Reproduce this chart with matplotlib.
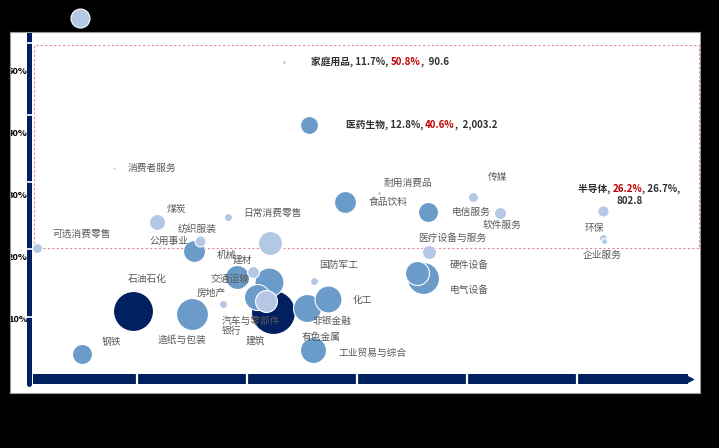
import matplotlib
matplotlib.use("Agg")
import matplotlib.pyplot as plt
import numpy as np
from matplotlib.patches import Rectangle
from matplotlib.offsetbox import TextArea, HPacker, VPacker, AnnotationBbox

plt.rcParams['font.family'] = ['Noto Sans CJK SC', 'DejaVu Sans']

# ---------------- data ----------------
names = ["", "家庭用品", "医药生物", "消费者服务", "食品饮料", "耐用消费品", "煤炭",
         "日常消费零售", "可选消费零售", "纺织服装", "公用事业", "银行", "石油石化",
         "机械", "建材", "交通运输", "非银金融", "汽车与零部件", "建筑", "房地产",
         "造纸与包装", "有色金属", "化工", "国防军工", "工业贸易与综合", "钢铁",
         "传媒", "电信服务", "软件服务", "医疗设备与服务", "硬件设备", "电气设备",
         "半导体", "环保", "企业服务"]
x_growth = [2.41, 11.7, 12.8, 3.95, 14.45, 16.0, 5.91,
            9.14, 0.45, 7.86, 7.59, 11.18, 4.82,
            11.05, 10.27, 9.55, 11.0, 10.45, 10.86, 8.91,
            7.5, 12.73, 13.68, 13.05, 13.0, 2.5,
            20.27, 18.23, 21.5, 18.27, 17.73, 18.0,
            26.2, 26.18, 26.23]
y_growth = [57.9, 50.8, 40.6, 33.7, 28.2, 29.6, 24.9,
            25.7, 20.7, 21.8, 20.2, 10.4, 10.5,
            21.5, 16.8, 16.0, 15.2, 12.8, 12.1, 11.65,
            10.0, 11.0, 12.46, 15.4, 4.2, 3.56,
            29.0, 26.5, 26.4, 20.1, 16.7, 15.9,
            26.7, 22.3, 21.8]
size_val = [2250, 90.6, 2003.2, 60, 3000, 100, 1600,
            400, 625, 750, 3000, 12100, 10000,
            3600, 900, 3600, 5250, 4225, 3000, 400,
            6400, 4900, 4550, 400, 4225, 2500,
            625, 2500, 900, 1225, 3600, 6400,
            802.8, 400, 225]
group = ["light", "light", "mid", "light", "mid", "light", "light",
         "light", "light", "light", "mid", "dark", "dark",
         "light", "light", "mid", "mid", "mid", "light", "light",
         "mid", "mid", "mid", "light", "mid", "mid",
         "light", "mid", "light", "light", "mid", "mid",
         "light", "light", "light"]
y_ticks = [10, 20, 30, 40, 50]
x_axis_ticks = [5, 10, 15, 20, 25]
highlight_box = (0.32, 20.7, 30.55, 53.6)   # x0, y0, x1, y1 of dotted frame

# label placement (offset pixels from bubble centre) -- layout, not data
label_dx = [0, 27, 37, 14, 24, 4, 10,
            15, 16, -22, -44, -51, -5,
            -53, -20, -27, 44, -35, -20, -26,
            -34, -5, 25, 5, 25, 20,
            15, 24, -17, -11, 33, 27,
            26, -18, -21]
label_dy = [0, 0, 0, 0, 0, 10, 13,
            4, 14, 12, 10, -19, 32,
            -12, 12, -2, -39, -24, -40, 11,
            -26, -29, -1, 16, -3, 12,
            20, 0, -12, 14, 8, -12,
            16, 10, -14]
bold_labels = {"家庭用品": 2, "医药生物": 2, "半导体": 1}   # which value is red

colors = {"dark": "#002060", "mid": "#6b9bc8", "light": "#b4c8e6"}
NAVY = "#002060"
CJK = ['Noto Sans CJK SC', 'DejaVu Sans']

# ---------------- figure ----------------
W, H = 719, 448
fig = plt.figure(figsize=(W / 100, H / 100), dpi=100, facecolor="black")
ax = fig.add_axes([10 / W, (H - 393) / H, 690 / W, 361 / H])
ax.set_facecolor("white")
ax.set_xlim(-0.773, 30.59)
ax.set_ylim(-2.75, 55.66)
ax.set_xticks([])
ax.set_yticks([])
for s in ax.spines.values():
    s.set_color("#9a9a9a")
    s.set_linewidth(0.8)

# dotted highlight frame
x0, y0, x1, y1 = highlight_box
ax.add_patch(Rectangle((x0, y0), x1 - x0, y1 - y0, fill=False,
                       edgecolor="#e38a92", linestyle=(0, (2, 2)), linewidth=0.8, zorder=1))

# decorative axis bars
ax.plot([0.11, 0.11], [-1.3, 55.6], color=NAVY, lw=3.6, solid_capstyle="round", zorder=2)
for g in [53.9, 42.2, 31.4, 20.55, 9.55]:
    ax.plot([-0.1, 0.32], [g, g], color="white", lw=1.2, zorder=3)
ax.plot([0.27, 30.05], [-0.49, -0.49], color=NAVY, lw=7.2, solid_capstyle="butt", zorder=2)
for t in x_axis_ticks:
    ax.plot([t, t], [-1.4, 0.4], color="white", lw=1.6, zorder=3)
ax.plot([30.12], [-0.49], marker=">", color=NAVY, markersize=4, zorder=2)

# y tick labels
ytrans = ax.get_yaxis_transform()
for v in y_ticks:
    ax.annotate(f"{v}%", xy=(0.0255, v), xycoords=ytrans, xytext=(0, -5),
                textcoords="offset pixels", ha="right", va="center",
                fontsize=6.7, fontweight="bold", color="black",
                family=CJK, annotation_clip=False, clip_on=True, zorder=1.5)

# bubbles
xs = np.array(x_growth)
ys = np.array(y_growth)
sz = np.array(size_val) * 0.0829
order = np.argsort(-np.array(size_val), kind="stable")
cols = [colors[g] for g in group]
for i in order:
    ax.scatter(xs[i], ys[i], s=sz[i], color=cols[i], edgecolors="white",
               linewidths=0.8, zorder=4, clip_on=False)

# labels
plain = dict(fontsize=7, color="#595959", family=CJK)
bdark = dict(fontsize=7, color="#303030", fontweight="bold", family=CJK)
bred = dict(fontsize=7, color="#c00000", fontweight="bold", family=CJK)
for i, nm in enumerate(names):
    if not nm:
        continue
    if nm in bold_labels:
        vals = [f"{x_growth[i]:.1f}%", f"{y_growth[i]:.1f}%"]
        sz_txt = f"{size_val[i]:,.1f}"
        if nm == "半导体":
            parts = [TextArea(nm + ", ", textprops=bdark),
                     TextArea(vals[0], textprops=bred),
                     TextArea(", " + vals[1] + ",", textprops=bdark)]
            line1 = HPacker(children=parts, align="baseline", pad=0, sep=0)
            line2 = TextArea(sz_txt, textprops=bdark)
            box = VPacker(children=[line1, line2], align="center", pad=0, sep=1)
            align = (0.5, 0.5)
        else:
            parts = [TextArea(nm + ", " + vals[0] + ", ", textprops=bdark),
                     TextArea(vals[1], textprops=bred),
                     TextArea(",  " + sz_txt, textprops=bdark)]
            box = HPacker(children=parts, align="baseline", pad=0, sep=0)
            align = (0.0, 0.5)
        ab = AnnotationBbox(box, (x_growth[i], y_growth[i]),
                            xybox=(label_dx[i] * 0.72, label_dy[i] * 0.72),
                            xycoords="data", boxcoords="offset points",
                            box_alignment=align, frameon=False, pad=0, zorder=6)
        ax.add_artist(ab)
    else:
        ax.annotate(nm, xy=(x_growth[i], y_growth[i]),
                    xytext=(label_dx[i], label_dy[i]), textcoords="offset pixels",
                    ha="left", va="center", zorder=5, **plain)

fig.savefig("out.png", dpi=100, facecolor="black")
